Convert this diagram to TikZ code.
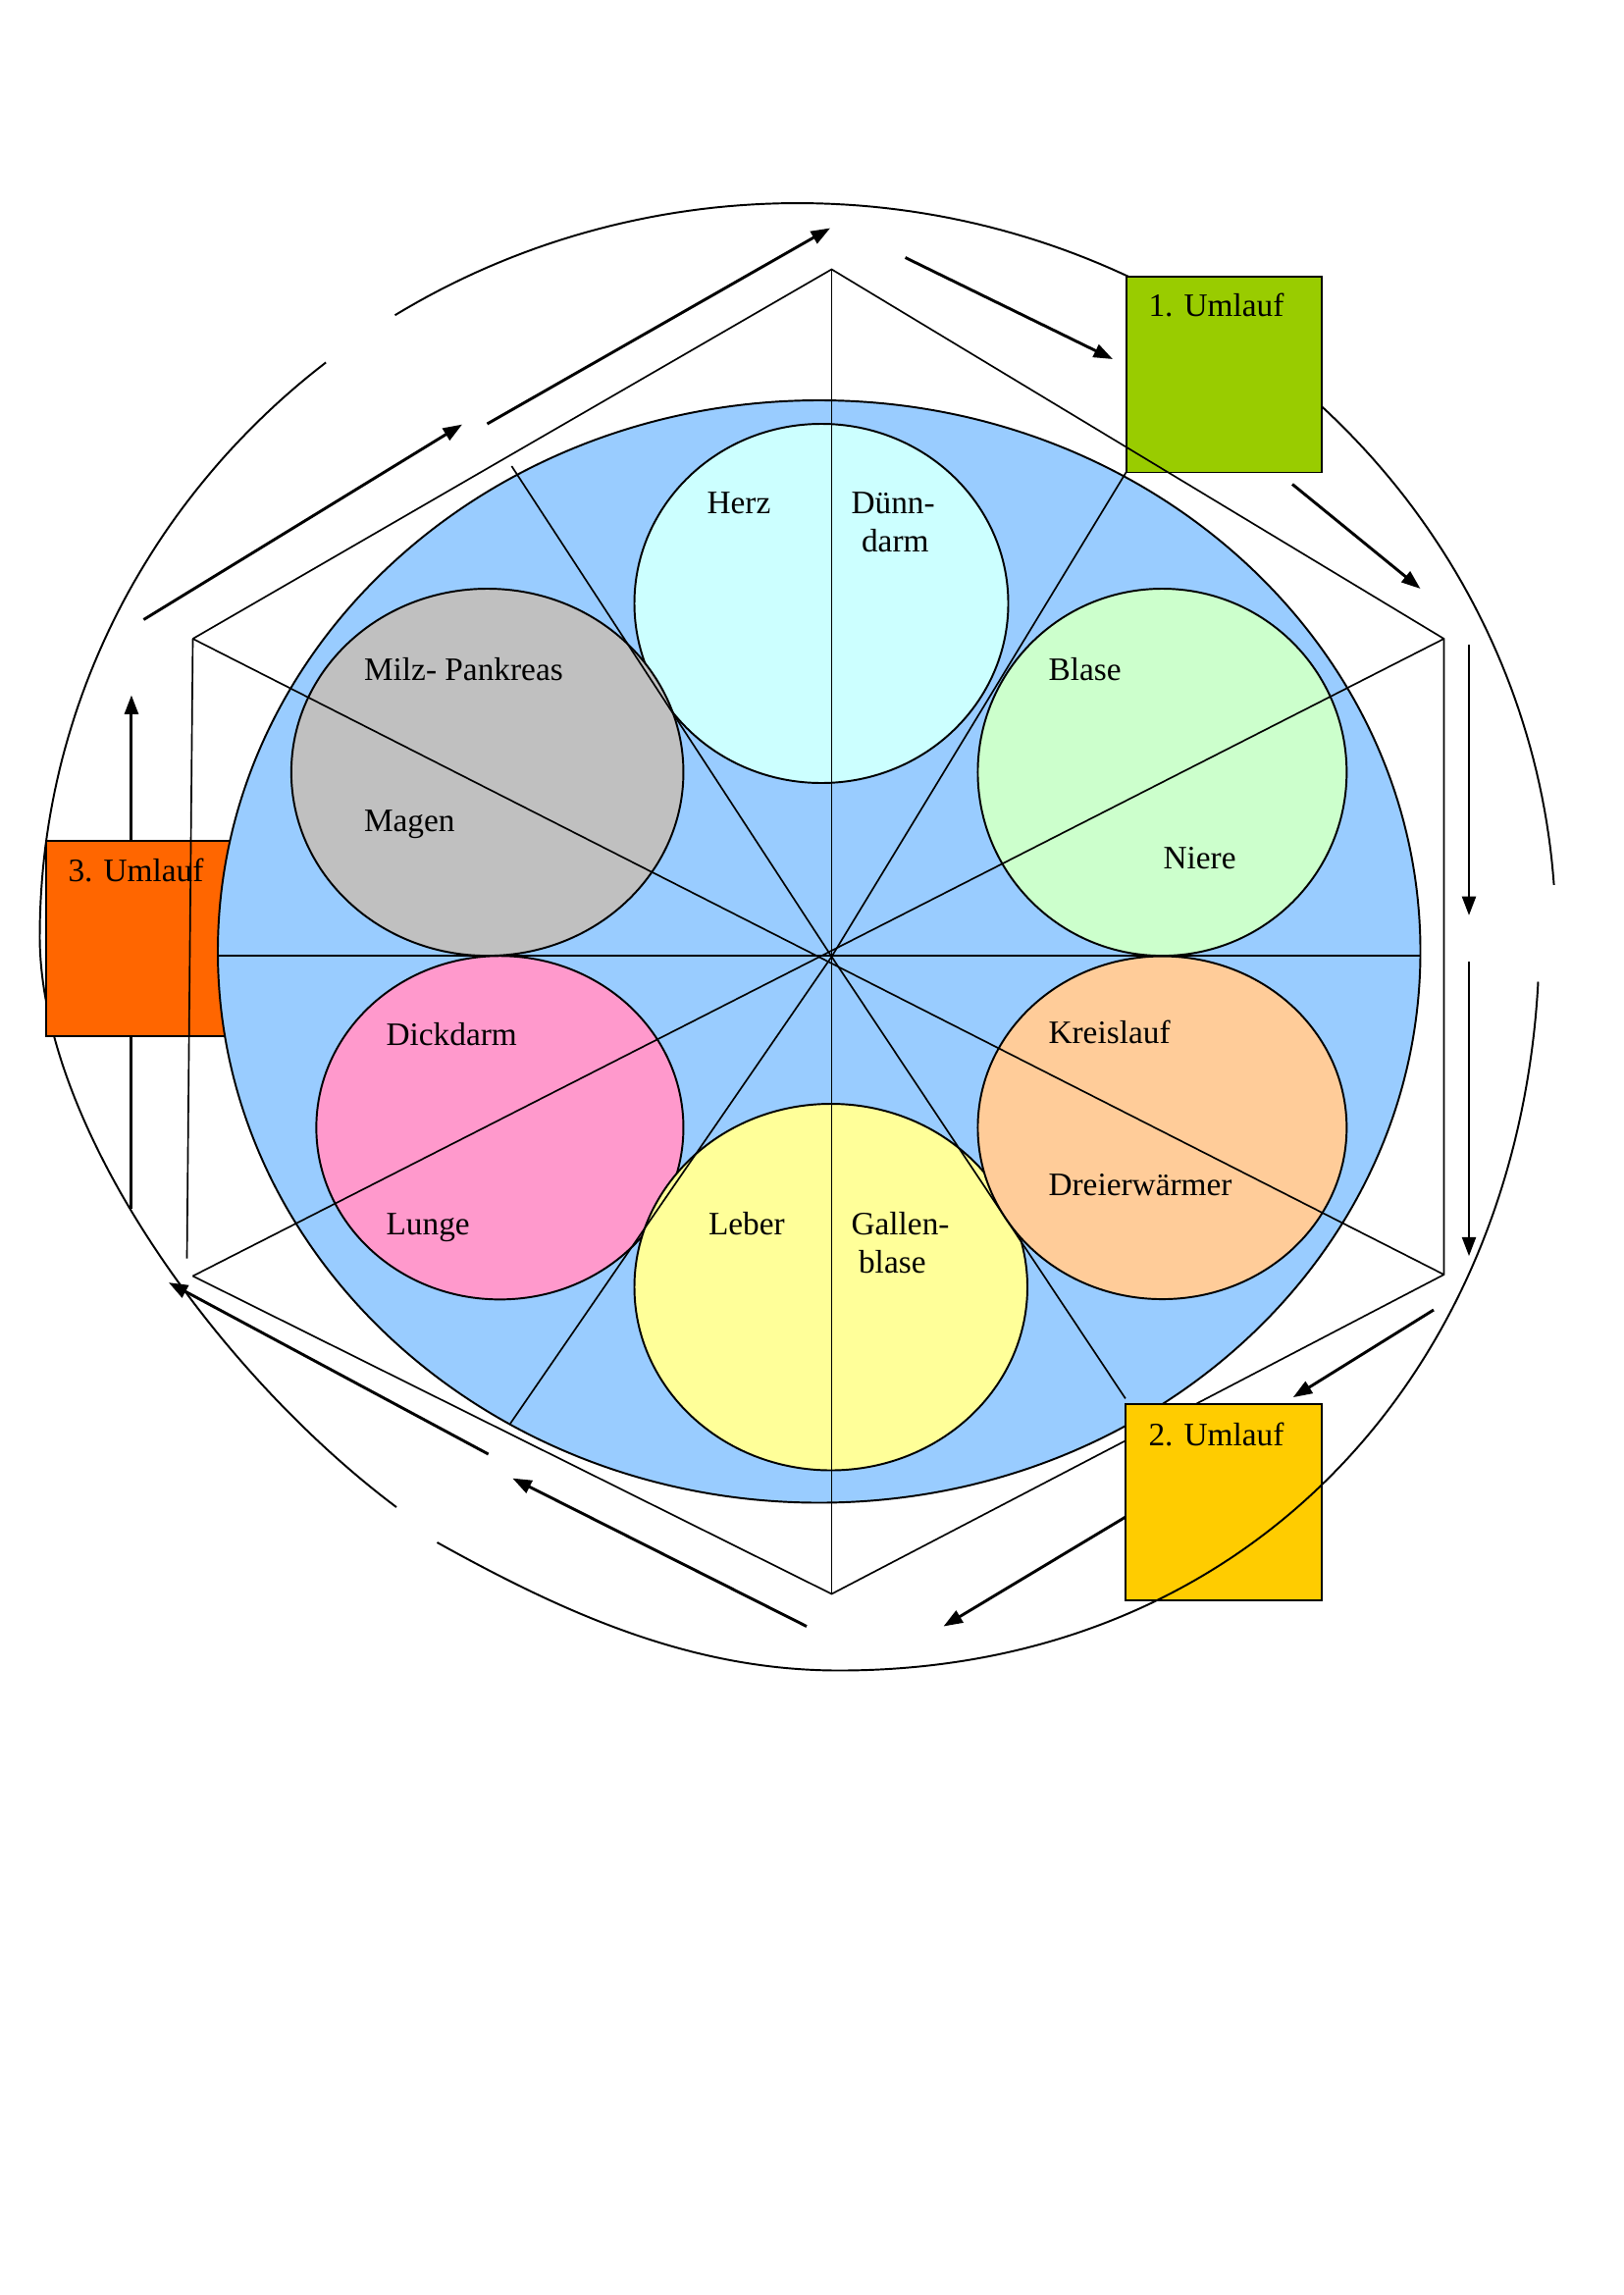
\documentclass[tikz,border=0pt]{standalone}
\usepackage{fontspec}
\setmainfont{Liberation Serif}
\usetikzlibrary{arrows.meta}
\definecolor{cBlue}{HTML}{99CCFF}
\definecolor{cCyan}{HTML}{CCFFFF}
\definecolor{cGreen}{HTML}{CCFFCC}
\definecolor{cGray}{HTML}{C0C0C0}
\definecolor{cPink}{HTML}{FF99CC}
\definecolor{cYellow}{HTML}{FFFF99}
\definecolor{cPeach}{HTML}{FFCC99}
\definecolor{cBoxA}{HTML}{99CC00}
\definecolor{cBoxB}{HTML}{FFCC00}
\definecolor{cBoxC}{HTML}{FF6600}
\begin{document}
\begin{tikzpicture}[x=0.54pt,y=-0.54pt,
  thinline/.style={line width=0.6pt},
  outline/.style={line width=0.7pt},
  flow/.style={line width=1.05pt,-{Triangle[length=7pt,width=5pt]}},
  organ/.style={draw,line width=0.7pt},
  umlaufbox/.style={draw,line width=0.7pt,minimum width=71.8pt,minimum height=71.8pt,inner sep=0pt},
  lbl/.style={anchor=base west,inner sep=0pt,font=\fontsize{12}{14.4}\selectfont}]
\useasboundingbox (0,0) rectangle (1102.67,1559.33);

% hexagon / spoke points
\coordinate (T) at (565,183);
\coordinate (UR) at (981,434);
\coordinate (LR) at (981,866);
\coordinate (B) at (565,1083);
\coordinate (LL) at (131,867);
\coordinate (UL) at (131,434);
\coordinate (ULv) at (127,855);
\coordinate (C) at (565,650);
\coordinate (HL) at (148,649.5);
\coordinate (HR) at (965,649.5);
\coordinate (S1) at (347.6,316.7);
\coordinate (S2) at (765,321);
\coordinate (S3) at (346.7,967.2);
\coordinate (S4) at (764.6,950.2);

% outer arcs behind the boxes
\draw[outline] plot[domain=-122.1:-4,samples=120] ({542+515*cos(\x)},{636+498*sin(\x)});
\coordinate (oL) at (27,636);
\coordinate (oLL) at (269.3,1024);
\draw[outline] plot[domain=-128.5:-180,samples=60] ({542+515*cos(\x)},{636+498*sin(\x)});
\draw[outline] (oL) .. controls (27,766) and (149.3,934) .. (oLL);

% arrow on the left (behind box 3)
\coordinate (a11s) at (89.3,821.4);
\coordinate (a11e) at (89.3,472.3);
\draw[flow] (a11s) -- (a11e);

% box 3
\node[umlaufbox,fill=cBoxC] (box3) at (97.8,637.5) {};

% blue disc
\coordinate (disc) at (556.5,646.5);
\fill[cBlue] (disc) ellipse [x radius=408.5, y radius=374.5];
\draw[outline] (disc) ellipse [x radius=408.5, y radius=374.5];

% organ circles
\draw[organ,fill=cCyan]   (558,410) ellipse [x radius=127, y radius=122];
\draw[organ,fill=cGreen]  (789.6,524.7) ellipse [x radius=125.3, y radius=124.7];
\draw[organ,fill=cGray]   (331.1,524.7) ellipse [x radius=133.2, y radius=124.7];
\draw[organ,fill=cPink]   (339.6,766.2) ellipse [x radius=124.7, y radius=116.7];
\draw[organ,fill=cYellow] (564.5,874.5) ellipse [x radius=133.5, y radius=124.5];
\draw[organ,fill=cPeach]  (789.6,766.2) ellipse [x radius=125.3, y radius=116.5];

% spokes
\draw[thinline] (HL) -- (HR);
\draw[thinline] (T) -- (B);
\draw[thinline] (UR) -- (LL);
\draw[thinline] (UL) -- (LR);
\draw[thinline] (S1) -- (C) -- (S4);
\draw[thinline] (S2) -- (C) -- (S3);

% box 1
\node[umlaufbox,fill=cBoxA] (box1) at (831.5,254.5) {};

% hexagon edges
\draw[thinline] (UL) -- (T) -- (UR) -- (LR) -- (B) -- (LL);
\draw[thinline] (UL) -- (ULv);

% arrows
\coordinate (a1s) at (97.6,421);   \coordinate (a1e) at (314,288.4);
\coordinate (a2s) at (331,288);    \coordinate (a2e) at (564,155);
\coordinate (a3s) at (615,175);    \coordinate (a3e) at (756,244);
\coordinate (a4s) at (878,329);    \coordinate (a4e) at (965,400);
\coordinate (a5s) at (998,438);    \coordinate (a5e) at (998,622);
\coordinate (a6s) at (998,653.5);  \coordinate (a6e) at (998,853.5);
\coordinate (a7s) at (974,890);    \coordinate (a7e) at (878.5,949.4);
\coordinate (a8s) at (780,1021.5); \coordinate (a8e) at (641,1105);
\coordinate (a9s) at (548,1105);   \coordinate (a9e) at (348.2,1004.4);
\coordinate (a10s) at (331.8,988); \coordinate (a10e) at (114.6,871.4);
\draw[flow] (a1s) -- (a1e);
\draw[flow] (a2s) -- (a2e);
\draw[flow] (a3s) -- (a3e);
\draw[flow] (a4s) -- (a4e);
\draw[flow] (a5s) -- (a5e);
\draw[flow] (a6s) -- (a6e);
\draw[flow] (a7s) -- (a7e);
\draw[flow] (a8s) -- (a8e);
\draw[flow] (a9s) -- (a9e);
\draw[flow] (a10s) -- (a10e);

% box 2
\node[umlaufbox,fill=cBoxB] (box2) at (831.3,1020.6) {};

% outer arc over box 2
\coordinate (oR) at (1045,667);
\coordinate (oB) at (570,1135);
\coordinate (oBL) at (297,1048);
\draw[outline] (oR) .. controls (1031,930) and (850,1135) .. (oB)
               .. controls (470,1135) and (384.4,1096.6) .. (oBL);

% labels
\node[lbl] (herz) at (480,349) {Herz};
\node[lbl] (duenn) at (578,349) {Dünn-};
\node[lbl] (darm) at (585,375) {darm};
\node[lbl] (blase) at (712,462) {Blase};
\node[lbl] (niere) at (790,590) {Niere};
\node[lbl] (milz) at (247,462) {Milz- Pankreas};
\node[lbl] (magen) at (247,565) {Magen};
\node[lbl] (dick) at (262,710) {Dickdarm};
\node[lbl] (lunge) at (262,839) {Lunge};
\node[lbl] (leber) at (481,839) {Leber};
\node[lbl] (gallen) at (578,839) {Gallen-};
\node[lbl] (gblase) at (583,865) {blase};
\node[lbl] (kreis) at (712,709) {Kreislauf};
\node[lbl] (dreier) at (712,812) {Dreierwärmer};
\node[lbl] (u1) at (780,215) {1. Umlauf};
\node[lbl] (u2) at (780,982) {2. Umlauf};
\node[lbl] (u3) at (46,599) {3. Umlauf};
\end{tikzpicture}
\end{document}
